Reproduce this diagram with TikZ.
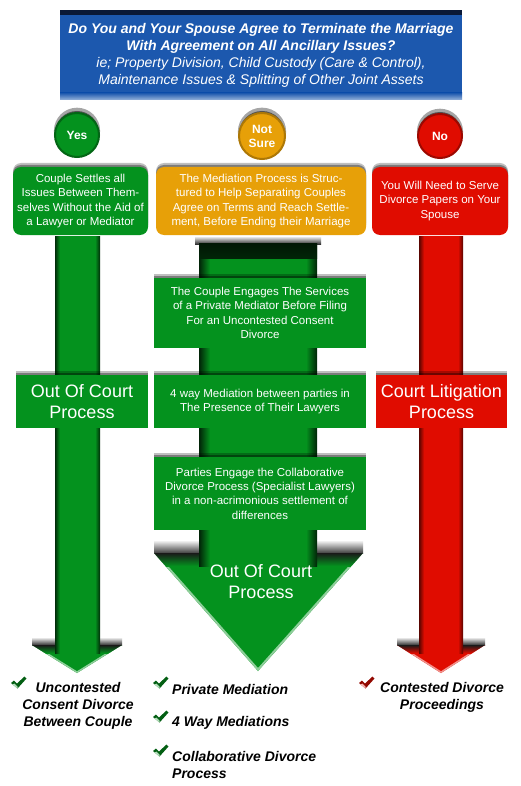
\documentclass[tikz,border=0pt]{standalone}
\usepackage{fontspec}
\setmainfont{Liberation Sans}
\usetikzlibrary{shadows}
\definecolor{mygreen}{RGB}{4,146,30}
\definecolor{myorange}{RGB}{231,160,8}
\definecolor{myred}{RGB}{224,12,0}
\definecolor{myblue}{RGB}{28,88,174}
\definecolor{mynavy}{RGB}{10,25,55}
\newcommand\chkmark[2]{%
  \fill[#2!65!black, shift={(#1)}]
    (0,6) -- (3,3.5) -- (6,6.5) -- (13.5,-0.5) -- (15.5,1.5) -- (6.5,11.5) -- cycle;
  \fill[#2!30!white, shift={(#1)}]
    (1.5,7.5) -- (3.5,6.5) -- (6.5,9.5) -- (6.5,11.5) -- cycle;}
\begin{document}
\begin{tikzpicture}[x=1pt,y=-1pt,
  boxshadow/.style={general shadow={shadow yshift=4pt,opacity=.25,fill=black},
                    general shadow={shadow yshift=2pt,opacity=.35,fill=black}},
  flowbox/.style={rectangle, text=white, align=center, inner sep=2pt,
     font=\fontsize{11.5}{14.3}\selectfont, boxshadow},
  roundbox/.style={flowbox, rounded corners=8pt},
  bigbox/.style={flowbox, font=\fontsize{18}{21}\selectfont},
  answer/.style={circle, minimum size=44pt, inner sep=0pt, text=white, align=center,
     line width=2pt, font=\fontsize{12}{14}\bfseries\selectfont,
     general shadow={shadow yshift=4pt,shadow scale=1.05,opacity=.35,fill=black},
     general shadow={shadow yshift=2pt,opacity=.5,fill=black}},
  result/.style={text=black, font=\fontsize{14}{17}\bfseries\itshape\selectfont, inner sep=0pt}
]
\useasboundingbox (0,0) rectangle (520,786);
\fill[white] (0,0) rectangle (520,786);

% ---------- banner ----------
\node[rectangle, fill=myblue, minimum width=402pt, minimum height=90pt, inner sep=0pt] (banner) at (261,55) {};
\fill[mynavy] (60,10) rectangle (462,15);
\shade[top color=myblue, bottom color=myblue!45!white] (60,93) rectangle (462,100);
\node[text=white, align=center, inner sep=0pt, font=\fontsize{14}{16.8}\selectfont] (bannertext) at (261,55.5)
  {{\bfseries\itshape Do You and Your Spouse Agree to Terminate the Marriage}\\
   {\bfseries\itshape With Agreement on All Ancillary Issues?}\\
   {\itshape ie; Property Division, Child Custody (Care \& Control),}\\
   {\itshape Maintenance Issues \& Splitting of Other Joint Assets}};

% ---------- left arrow ----------
\shade[top color=white, bottom color=black!80] (32,637) rectangle (122,645);
\fill[mygreen] (32,645) -- (122,645) -- (77,673) -- cycle;
\begin{scope}
  \clip (32,645) -- (122,645) -- (77,673) -- cycle;
  \draw[mygreen!45!white, line width=3pt] (32,645) -- (77,673) -- (122,645);
  \shade[top color=black!90, bottom color=mygreen] (32,645) rectangle (122,653);
\end{scope}
\fill[mygreen] (55,236) rectangle (100,653);
\shade[left color=black!70!mygreen, right color=mygreen] (55,236) rectangle (60,653);
\shade[left color=mygreen, right color=black!70!mygreen] (95,236) rectangle (100,653);

% ---------- right arrow ----------
\shade[top color=white, bottom color=black!80] (397,637) rectangle (485,645);
\fill[myred] (397,645) -- (485,645) -- (441,673) -- cycle;
\begin{scope}
  \clip (397,645) -- (485,645) -- (441,673) -- cycle;
  \draw[myred!45!white, line width=3pt] (397,645) -- (441,673) -- (485,645);
  \shade[top color=black!90, bottom color=myred] (397,645) rectangle (485,653);
\end{scope}
\fill[myred] (419,236) rectangle (463,653);
\shade[left color=black!60!myred, right color=myred] (419,236) rectangle (424,653);
\shade[left color=myred, right color=black!60!myred] (458,236) rectangle (463,653);

% ---------- middle arrow ----------
\shade[top color=white, bottom color=black!75] (154,540) rectangle (363,553);
\fill[mygreen] (154,553) -- (363,553) -- (258,671) -- cycle;
\begin{scope}
  \clip (154,553) -- (363,553) -- (258,671) -- cycle;
  \draw[mygreen!45!white, line width=4pt] (154,553) -- (258,671) -- (363,553);
  \shade[top color=black!90, bottom color=mygreen] (154,553) rectangle (363,566);
\end{scope}
\shade[top color=white, bottom color=black!80] (195,236) rectangle (321,244);
\fill[mygreen] (199,243) rectangle (317,566);
\shade[left color=black!75!mygreen, right color=mygreen] (199,243) rectangle (210,566);
\shade[left color=mygreen, right color=black!75!mygreen] (306,243) rectangle (317,566);
\shade[top color=black!85!mygreen, bottom color=black!75!mygreen] (199,243) rectangle (317,258);

\node[text=white, align=center, inner sep=0pt, font=\fontsize{18}{21}\selectfont] (midhead) at (261,582) {Out Of Court\\Process};

% ---------- answers ----------
\node[answer, fill=mygreen, draw=mygreen!70!black] (yes) at (77,135) {Yes};
\node[answer, minimum size=46pt, fill=myorange, draw=myorange!75!black] (notsure) at (262,136) {Not\\Sure};
\node[answer, fill=myred, draw=myred!70!black] (no) at (440,136) {No};

% ---------- first row boxes ----------
\node[roundbox, fill=mygreen, minimum width=135pt, minimum height=68pt] (yesbox) at (80.5,201)
  {Couple Settles all\\Issues Between Them-\\selves Without the Aid of\\a Lawyer or Mediator};
\node[roundbox, fill=myorange, minimum width=210pt, minimum height=68pt] (notbox) at (261,201)
  {The Mediation Process is Struc-\\tured to Help Separating Couples\\Agree on Terms and Reach Settle-\\ment, Before Ending their Marriage};
\node[roundbox, fill=myred, minimum width=136pt, minimum height=68pt] (nobox) at (440,201)
  {You Will Need to Serve\\Divorce Papers on Your\\Spouse};

% ---------- middle boxes ----------
\node[flowbox, fill=mygreen, minimum width=212pt, minimum height=70pt] (m1) at (260,313)
  {The Couple Engages The Services\\of a Private Mediator Before Filing\\For an Uncontested Consent\\Divorce};
\node[flowbox, fill=mygreen, minimum width=212pt, minimum height=53pt] (m2) at (260,401.5)
  {4 way Mediation between parties in\\The Presence of Their Lawyers};
\node[flowbox, fill=mygreen, minimum width=212pt, minimum height=73pt] (m3) at (260,493.5)
  {Parties Engage the Collaborative\\Divorce Process (Specialist Lawyers)\\in a non-acrimonious settlement of\\differences};
\node[bigbox, fill=mygreen, minimum width=132pt, minimum height=53pt] (lbox) at (82,401.5)
  {Out Of Court\\Process};
\node[bigbox, fill=myred, minimum width=131pt, minimum height=53pt] (rbox) at (441.5,401.5)
  {Court Litigation\\Process};

% ---------- results ----------
\chkmark{11,677}{mygreen}
\node[result, align=center] (r1) at (78,706) {Uncontested\\Consent Divorce\\Between Couple};
\chkmark{153,677}{mygreen}
\node[result, anchor=west] (r2) at (172,689) {Private Mediation};
\chkmark{153,711}{mygreen}
\node[result, anchor=west] (r3) at (172,723) {4 Way Mediations};
\chkmark{153,745}{mygreen}
\node[result, anchor=west, align=left] (r4) at (172,765) {Collaborative Divorce\\Process};
\chkmark{359,677}{myred}
\node[result, align=center] (r5) at (442,697.5) {Contested Divorce\\Proceedings};
\end{tikzpicture}
\end{document}
